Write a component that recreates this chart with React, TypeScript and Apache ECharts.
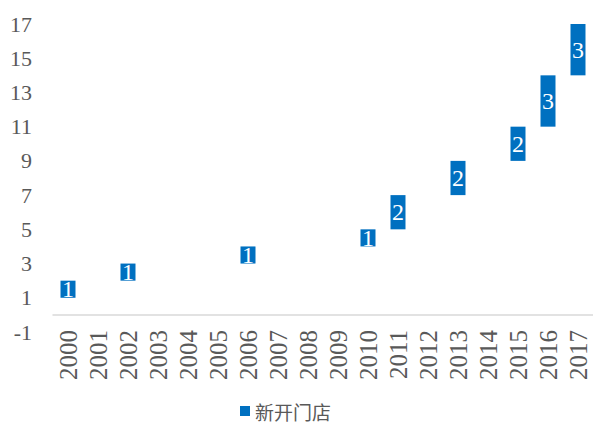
import React, { useEffect, useRef } from "react";
import * as echarts from "echarts";

const years = ["2000","2001","2002","2003","2004","2005","2006","2007","2008","2009","2010","2011","2012","2013","2014","2015","2016","2017"];
// invisible base of each floating bar (cumulative level before the year's openings)
const baseValues: (number | null)[] = [1, null, 2, null, null, null, 3, null, null, null, 4, 5, null, 7, null, 9, 11, 14];
// new stores opened each year
const newStores: (number | null)[] = [1, null, 1, null, null, null, 1, null, null, null, 1, 2, null, 2, null, 2, 3, 3];
const yTicks = { min: -1, max: 17, interval: 2 };

export default function App() {
  const ref = useRef<HTMLDivElement>(null);
  useEffect(() => {
    if (!ref.current) return;
    const chart = echarts.init(ref.current, null, { renderer: "svg" });
    chart.setOption({
      animation: false,
      grid: { left: 53, right: 0, top: 24, bottom: 91 },
      legend: {
        data: ["新开门店"],
        top: 400,
        left: 240,
        padding: 0,
        icon: "rect",
        itemWidth: 10,
        itemHeight: 10,
        itemGap: 6,
        textStyle: { fontSize: 19, lineHeight: 22, color: "#595959", fontFamily: "Noto Sans CJK SC" },
      },
      xAxis: {
        type: "category",
        data: years,
        axisLine: { onZero: true, lineStyle: { color: "#d9d9d9", width: 1.5 } },
        axisTick: { show: false },
        axisLabel: {
          rotate: 90,
          interval: 0,
          margin: -2,
          fontSize: 25,
          color: "#595959",
          fontFamily: "Liberation Serif, Times New Roman, serif",
        },
      },
      yAxis: {
        type: "value",
        min: yTicks.min,
        max: yTicks.max,
        interval: yTicks.interval,
        splitLine: { show: false },
        axisLine: { show: false },
        axisTick: { show: false },
        axisLabel: {
          margin: 21,
          fontSize: 22,
          color: "#595959",
          fontFamily: "Liberation Serif, Times New Roman, serif",
        },
      },
      series: [
        {
          type: "bar",
          stack: "w",
          data: baseValues,
          barWidth: 15,
          itemStyle: { color: "transparent" },
          silent: true,
        },
        {
          name: "新开门店",
          type: "bar",
          stack: "w",
          data: newStores,
          barWidth: 15,
          itemStyle: { color: "#0070C0" },
          label: {
            show: true,
            position: "inside",
            color: "#ffffff",
            fontSize: 24,
            fontFamily: "Liberation Serif, Times New Roman, serif",
          },
        },
      ],
    });
    return () => chart.dispose();
  }, []);
  return <div ref={ref} style={{ width: 593, height: 423, position: "absolute", left: 0, top: 0 }} />;
}
